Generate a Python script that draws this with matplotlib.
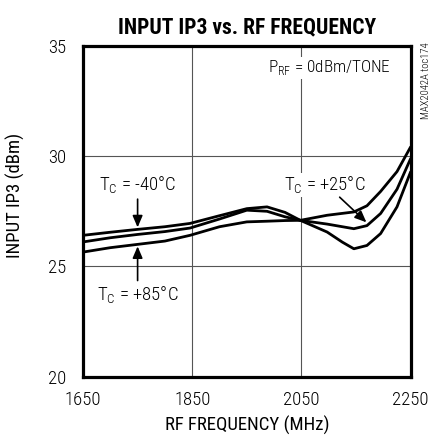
import matplotlib.pyplot as plt

plt.rcParams['font.family'] = ['Roboto Condensed', 'DejaVu Sans']
plt.rcParams['font.weight'] = 'light'
plt.rcParams['mathtext.fontset'] = 'custom'
plt.rcParams['mathtext.rm'] = 'Roboto Condensed'

# Tc = -40C
freq_m40 = [1650, 1700, 1750, 1800, 1846, 1900, 1950, 1987, 2020, 2048, 2097, 2125, 2146, 2170, 2195, 2225, 2250]
ip3_m40 = [26.41, 26.55, 26.68, 26.80, 26.95, 27.30, 27.62, 27.70, 27.45, 27.09, 26.56, 26.10, 25.80, 25.95, 26.49, 27.70, 29.29]
# Tc = +25C
freq_p25 = [1650, 1700, 1750, 1800, 1846, 1900, 1950, 1987, 2020, 2048, 2097, 2146, 2170, 2195, 2225, 2250]
ip3_p25 = [26.11, 26.30, 26.45, 26.58, 26.74, 27.15, 27.55, 27.50, 27.25, 27.09, 26.92, 26.71, 26.85, 27.40, 28.50, 29.89]
# Tc = +85C
freq_p85 = [1650, 1700, 1750, 1800, 1846, 1900, 1950, 1987, 2020, 2048, 2097, 2146, 2170, 2195, 2225, 2250]
ip3_p85 = [25.65, 25.85, 26.00, 26.15, 26.41, 26.80, 27.02, 27.05, 27.08, 27.09, 27.32, 27.47, 27.75, 28.40, 29.30, 30.42]

fig = plt.figure(figsize=(4.30, 4.37), dpi=100)
ax = fig.add_axes([0.193, 0.138, 0.762, 0.757])

for f, v in [(freq_m40, ip3_m40), (freq_p25, ip3_p25), (freq_p85, ip3_p85)]:
    ax.plot(f, v, color='black', lw=2.0, solid_joinstyle='round', solid_capstyle='round', zorder=3)

ax.set_xlim(1650, 2250)
ax.set_ylim(20, 35)
ax.set_xticks([1650, 1850, 2050, 2250])
ax.set_yticks([20, 25, 30, 35])
ax.tick_params(axis='y', length=0, labelsize=13.5, pad=12)
ax.tick_params(axis='x', length=0, labelsize=13.5, pad=10)
ax.grid(True, color='#555555', lw=0.8)
for s in ax.spines.values():
    s.set_linewidth(2.3)

ax.set_title('INPUT IP3 vs. RF FREQUENCY', fontsize=15.5, fontweight='bold', pad=9)
ax.set_xlabel('RF FREQUENCY (MHz)', fontsize=13.5, labelpad=5)
ax.set_ylabel('INPUT IP3 (dBm)', fontsize=13.5)
ax.yaxis.set_label_coords(-0.178, 0.547)

box = dict(facecolor='white', edgecolor='none', pad=1)
ax.text(2213, 34.0, r'P$_{\mathrm{RF}}$ = 0dBm/TONE', ha='right', va='center', fontsize=12.3, bbox=box, zorder=4)
ax.text(1750, 28.68, r'T$_{\mathrm{C}}$ = -40°C', ha='center', va='center', fontsize=13.5, bbox=box, zorder=4)
ax.text(1750, 23.68, r'T$_{\mathrm{C}}$ = +85°C', ha='center', va='center', fontsize=13.5, bbox=box, zorder=4)
ax.text(2092, 28.68, r'T$_{\mathrm{C}}$ = +25°C', ha='center', va='center', fontsize=13.5, bbox=box, zorder=4)

arrow = dict(arrowstyle='-|>,head_length=0.7,head_width=0.3', color='black', lw=1.2, shrinkA=0, shrinkB=0)
ax.annotate('', xy=(1750, 26.77), xytext=(1750, 28.05), arrowprops=arrow, zorder=4)
ax.annotate('', xy=(1750, 25.91), xytext=(1750, 24.36), arrowprops=arrow, zorder=4)
ax.annotate('', xy=(2169, 27.0), xytext=(2120, 28.14), arrowprops=arrow, zorder=4)

fig.text(0.99, 0.902, 'MAX2042A toc174', rotation=90, ha='center', va='top', fontsize=7.7)

fig.savefig('out.png', dpi=100)
